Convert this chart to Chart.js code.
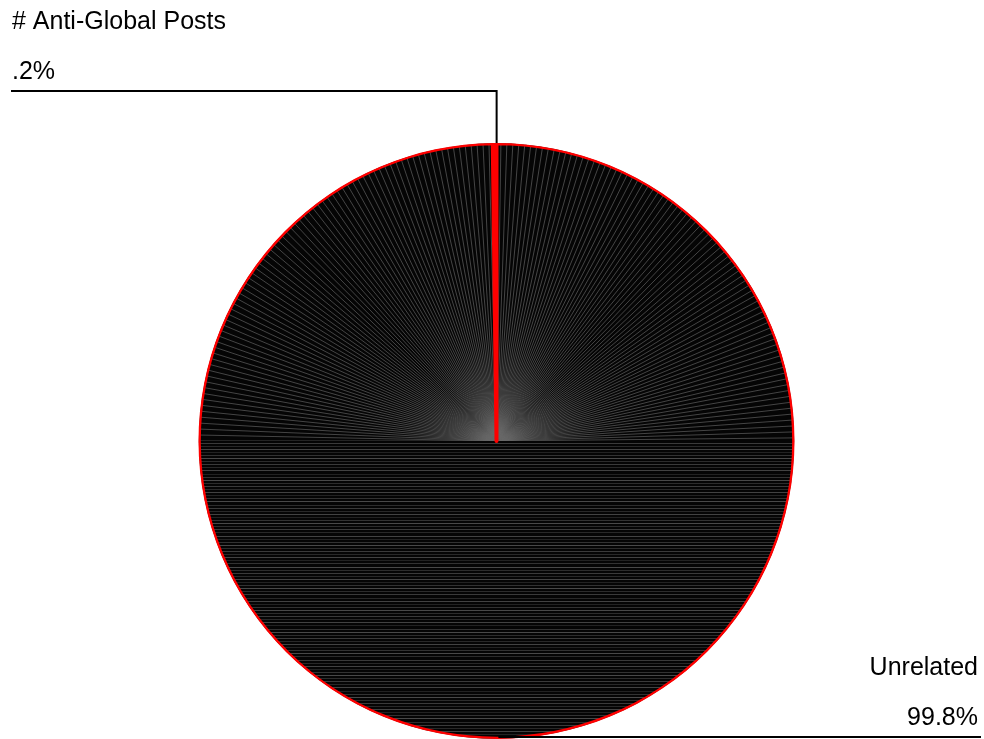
<!DOCTYPE html>
<html>
<head>
<meta charset="utf-8">
<script src="https://cdn.jsdelivr.net/npm/chart.js@4.4.1/dist/chart.umd.min.js"></script>
<style>
  html, body { margin: 0; padding: 0; background: #ffffff; }
  #wrap { width: 984px; height: 739px; position: relative; }
</style>
</head>
<body>
<div id="wrap"><canvas id="c" width="984" height="739"></canvas></div>
<script>
// ---- data ----
const categories = ['Unrelated', '# Anti-Global Posts'];
const shares = [99.8, 0.2];
const sliceColors = ['texture', '#ff0000'];

let texCache = null;
function texturePattern(chart) {
  const area = chart.chartArea;
  if (!area) return '#111111';
  const key = [area.left, area.top, area.right, area.bottom].join(',');
  if (texCache && texCache.key === key) return texCache.pattern;
  const cx = (area.left + area.right) / 2;
  const cy = (area.top + area.bottom) / 2;
  const r = Math.min(area.right - area.left, area.bottom - area.top) / 2;
  const off = document.createElement('canvas');
  off.width = chart.width; off.height = chart.height;
  const g = off.getContext('2d');
  g.fillStyle = '#050505';
  g.fillRect(0, 0, off.width, off.height);
  // radial lines in upper half
  g.save();
  g.beginPath(); g.rect(0, 0, off.width, cy); g.clip();
  g.strokeStyle = 'rgba(105,105,105,0.8)';
  g.lineWidth = 0.8;
  for (let a = 180; a <= 360.01; a += 1.15) {
    const rad = a * Math.PI / 180;
    g.beginPath();
    g.moveTo(cx, cy);
    g.lineTo(cx + Math.cos(rad) * (r + 5), cy + Math.sin(rad) * (r + 5));
    g.stroke();
  }
  g.restore();
  // horizontal lines in lower half
  let i = 0;
  for (let y = cy + 1.5; y < cy + r + 5; y += 3.1) {
    const shade = [58, 40, 66, 34, 50, 72, 44][i % 7];
    g.fillStyle = 'rgb(' + shade + ',' + shade + ',' + shade + ')';
    g.fillRect(0, Math.round(y), off.width, 1);
    i++;
  }
  const pattern = chart.ctx.createPattern(off, 'no-repeat');
  texCache = { key, pattern };
  return pattern;
}

const calloutPlugin = {
  id: 'callouts',
  afterDraw(chart) {
    const ctx = chart.ctx;
    const meta = chart.getDatasetMeta(0);
    const data = chart.data.datasets[0].data;
    const total = data.reduce((s, v) => s + v, 0);
    ctx.save();
    ctx.font = '25px "Liberation Sans", Arial, sans-serif';
    ctx.fillStyle = '#000000';
    ctx.strokeStyle = '#000000';
    ctx.lineWidth = 2;
    ctx.textBaseline = 'middle';
    meta.data.forEach((arc, i) => {
      const p = arc.getProps(['x', 'y', 'startAngle', 'endAngle', 'outerRadius'], true);
      const mid = (p.startAngle + p.endAngle) / 2;
      const px = p.x + Math.cos(mid) * p.outerRadius;
      const py = p.y + Math.sin(mid) * p.outerRadius;
      const pct = (data[i] / total * 100).toFixed(1).replace(/^0/, '');
      const name = chart.data.labels[i];
      if (py < p.y) {
        // upper label: to the left, elbow leader
        const ly = py - 52;
        const lx = 11;
        ctx.beginPath();
        ctx.moveTo(lx, ly);
        ctx.lineTo(px + 2, ly);
        ctx.lineTo(px + 2, py);
        ctx.stroke();
        ctx.textAlign = 'left';
        ctx.fillText(name, lx + 1, ly - 69);
        ctx.fillText(pct + '%', lx + 1, ly - 19);
      } else {
        const ly = py - 2;
        const rx = chart.width - 3;
        ctx.beginPath();
        ctx.moveTo(px, ly);
        ctx.lineTo(rx, ly);
        ctx.stroke();
        ctx.textAlign = 'right';
        ctx.fillText(name, rx - 3, ly - 69);
        ctx.fillText(pct + '%', rx - 3, ly - 19);
      }
    });
    ctx.restore();
  }
};

new Chart(document.getElementById('c'), {
  type: 'pie',
  data: {
    labels: categories,
    datasets: [{
      data: shares,
      backgroundColor: (c) => sliceColors[c.dataIndex] === 'texture' ? texturePattern(c.chart) : sliceColors[c.dataIndex],
      borderColor: '#ff0000',
      borderWidth: 2,
      borderAlign: 'inner'
    }]
  },
  options: {
    responsive: false,
    animation: false,
    layout: { padding: { top: 143, bottom: 0, left: 9, right: 0 } },
    plugins: {
      legend: { display: false },
      tooltip: { enabled: false },
      title: { display: false }
    }
  },
  plugins: [calloutPlugin]
});
</script>
</body>
</html>
